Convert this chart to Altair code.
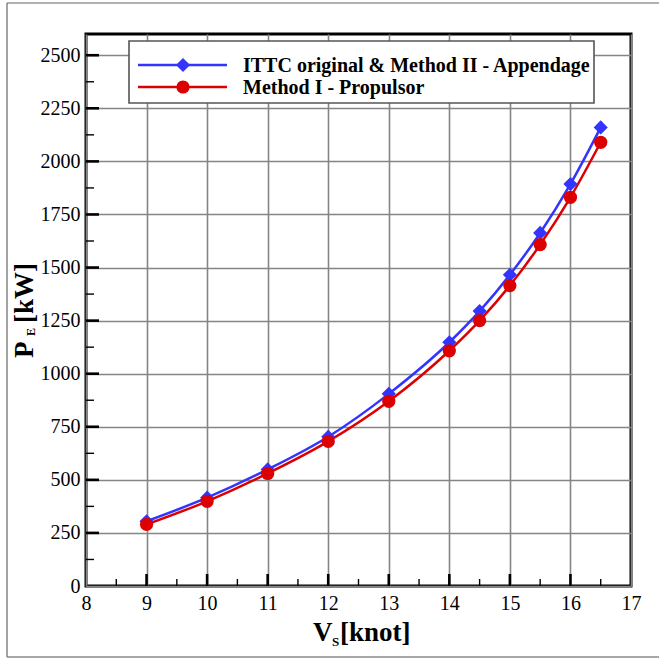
import altair as alt
import pandas as pd

# ---- data ----
speed = [9, 10, 11, 12, 13, 14, 14.5, 15, 15.5, 16, 16.5]
pe_ittc = [305, 416, 549, 703, 905, 1148, 1295, 1466, 1663, 1893, 2160]
pe_method1 = [290, 399, 530, 681, 870, 1108, 1250, 1415, 1608, 1831, 2090]

series_names = ["ITTC original & Method II - Appendage", "Method I - Propulsor"]
series_colors = ["#3434FF", "#DD0000"]
series_shapes = ["diamond", "circle"]
series_sizes = [200, 175]

x_ticks = [8, 9, 10, 11, 12, 13, 14, 15, 16, 17]
y_ticks = [0, 250, 500, 750, 1000, 1250, 1500, 1750, 2000, 2250, 2500]
x_minor = [8.5, 9.5, 10.5, 11.5, 12.5, 13.5, 14.5, 15.5, 16.5]
y_minor = [125, 375, 625, 875, 1125, 1375, 1625, 1875, 2125, 2375]

rows = []
for name, vals in zip(series_names, [pe_ittc, pe_method1]):
    for v, p in zip(speed, vals):
        rows.append({"V": v, "PE": p, "series": name})
df = pd.DataFrame(rows)

W, H = 545, 552
FONT = "Liberation Serif, Times New Roman, serif"

xscale = alt.Scale(domain=[8, 17], nice=False, zero=False)
yscale = alt.Scale(domain=[0, 2600], nice=False)
xaxis = alt.Axis(values=x_ticks, title=None, grid=True, gridColor="#858585", gridWidth=1.6,
                 domain=False, ticks=False, labelFont=FONT, labelFontSize=20, labelColor="black",
                 labelPadding=7, labelFlush=False, labelOverlap=False, format="d")
yaxis = alt.Axis(values=y_ticks, title=None, grid=True, gridColor="#858585", gridWidth=1.6,
                 domain=False, ticks=False, labelFont=FONT, labelFontSize=20, labelColor="black",
                 labelPadding=6, labelFlush=False, labelOverlap=False, format="d")

color = alt.Color("series:N", scale=alt.Scale(domain=series_names, range=series_colors), legend=None)
shape = alt.Shape("series:N", scale=alt.Scale(domain=series_names, range=series_shapes), legend=None)
size = alt.Size("series:N", scale=alt.Scale(domain=series_names, range=series_sizes), legend=None)

base = alt.Chart(df).encode(
    x=alt.X("V:Q", scale=xscale, axis=xaxis),
    y=alt.Y("PE:Q", scale=yscale, axis=yaxis),
)
lines = base.mark_line(strokeWidth=2.5, interpolate="monotone").encode(color=color, detail="series:N")
points = base.mark_point(filled=True, opacity=1).encode(color=color, shape=shape, size=size)

# inward ticks
def xtick_layer(vals, length, width):
    return alt.Chart(pd.DataFrame({"V": vals})).mark_rule(color="black", strokeWidth=width).encode(
        x=alt.X("V:Q", scale=xscale, axis=xaxis), y=alt.value(H), y2=alt.value(H - length))

def ytick_layer(vals, length, width):
    return alt.Chart(pd.DataFrame({"PE": vals})).mark_rule(color="black", strokeWidth=width).encode(
        y=alt.Y("PE:Q", scale=yscale, axis=yaxis), x=alt.value(0), x2=alt.value(length))

ticks = [
    xtick_layer(x_ticks[1:-1], 12, 2.6),
    xtick_layer(x_minor, 7, 1.4),
    ytick_layer(y_ticks[1:], 13, 2.6),
    ytick_layer(y_minor, 8, 1.4),
]

one = pd.DataFrame({"a": [0]})

# legend
legend_layers = [
    alt.Chart(one).mark_rect(fill="white", stroke="#555555", strokeWidth=1.6).encode(
        x=alt.value(43), x2=alt.value(508), y=alt.value(7), y2=alt.value(69))
]
for i, (name, col, shp, sz) in enumerate(zip(series_names, series_colors, series_shapes, series_sizes)):
    ly = 31 + 22 * i
    d = pd.DataFrame({"label": [name]})
    legend_layers.append(alt.Chart(d).mark_rule(color=col, strokeWidth=2.5).encode(
        x=alt.value(52), x2=alt.value(141), y=alt.value(ly)))
    legend_layers.append(alt.Chart(d).mark_point(filled=True, opacity=1, color=col, shape=shp, size=sz).encode(
        x=alt.value(97), y=alt.value(ly)))
    legend_layers.append(alt.Chart(d).mark_text(align="left", baseline="alphabetic", font=FONT,
                                                fontSize=20, fontWeight="bold", color="black").encode(
        text="label:N", x=alt.value(157), y=alt.value(ly + 7)))

# axis titles with subscripts
def txt(s, x, y, size, angle=0):
    kw = dict(align="left", baseline="alphabetic", font=FONT, fontSize=size, fontWeight="bold", color="black")
    if angle:
        kw["angle"] = angle
    return alt.Chart(pd.DataFrame({"t": [s]})).mark_text(**kw).encode(
        text="t:N", x=alt.value(x), y=alt.value(y))

titles = [
    txt("V", 227, 607, 27),
    txt("S", 246, 612, 13),
    txt("[knot]", 254, 607, 27),
    txt("P", -53, 324, 27, 270),
    txt("E", -51, 302, 12, 270),
    txt("[kW]", -53, 289, 27, 270),
]

# outer figure frame
frame = [
    alt.Chart(one).mark_rule(color="#666666", strokeWidth=1.2).encode(
        x=alt.value(-79), y=alt.value(-31), y2=alt.value(623)),
    alt.Chart(one).mark_rule(color="#666666", strokeWidth=1.2).encode(
        x=alt.value(-79), x2=alt.value(580), y=alt.value(-31)),
    alt.Chart(one).mark_rule(color="#888888", strokeWidth=1.5).encode(
        x=alt.value(-79), x2=alt.value(580), y=alt.value(623)),
]

chart = alt.layer(
    lines, points, *ticks, *legend_layers, *titles, *frame
).properties(
    width=W, height=H,
    autosize=alt.AutoSizeParams(type="none"),
    padding={"left": 86, "top": 34, "right": 28, "bottom": 72},
    background="white",
).configure(
    font=FONT,
    style={"guide-label": {"font": FONT, "fontSize": 20, "fill": "black"}},
).configure_view(
    stroke="black", strokeWidth=3
).configure_axis(
    labelFont=FONT, labelFontSize=20, labelColor="black"
).configure_text(font=FONT)

chart.save("out.html", embed_options={"renderer": "svg", "actions": False})
